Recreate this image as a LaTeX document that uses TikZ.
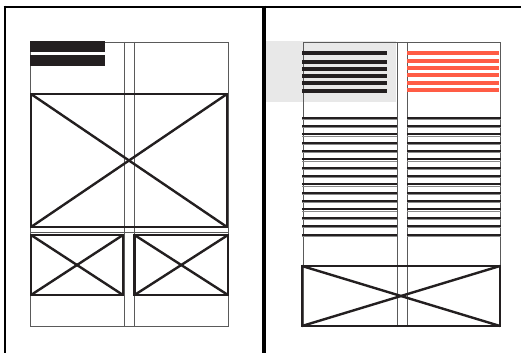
\documentclass[tikz,border=0pt]{standalone}
\definecolor{ink}{HTML}{231F20}
\definecolor{gridgray}{HTML}{5A5A5A}
\definecolor{lightgray}{HTML}{E8E8E8}
\definecolor{accent}{HTML}{FF5C45}
\tikzset{
  frame/.style={line width=2.6pt, draw=black},
  gridline/.style={line width=0.9pt, draw=gridgray},
  xbox/.style={line width=2.4pt, draw=ink},
  bar/.style={fill=ink},
  redbar/.style={fill=accent},
  textline/.style={line width=2pt, draw=ink},
  textshadow/.style={line width=1pt, draw=gridgray!70}
}
\begin{document}
\begin{tikzpicture}[x=1pt,y=-1pt]
\useasboundingbox (0,0) rectangle (521,353);
\fill[white] (0,0) rectangle (521,353);
% page frames
\draw[frame] (3.5,7) -- (521,7);
\draw[frame] (5,5.7) -- (5,353);
\draw[frame, line width=4pt] (264,5.7) -- (264,353);

% ---------- left page ----------
\draw[gridline] (30.5,42) rectangle (228,326);
\draw[gridline] (124,42) -- (124,326);
\draw[gridline] (134,42) -- (134,326);
\draw[gridline] (30.5,232.5) -- (228,232.5);
\fill[bar] (30,41) rectangle (105,52);
\fill[bar] (30,55) rectangle (105,66);
% big image box
\draw[xbox] (31,94) rectangle (227,227);
\draw[xbox] (31,94) -- (227,227);
\draw[xbox] (227,94) -- (31,227);
% small image boxes
\draw[xbox] (31,235) rectangle (123,295);
\draw[xbox] (31,235) -- (123,295);
\draw[xbox] (123,235) -- (31,295);
\draw[xbox] (134.5,235) rectangle (228,295);
\draw[xbox] (134.5,235) -- (228,295);
\draw[xbox] (228,235) -- (134.5,295);

% ---------- right page ----------
\fill[lightgray] (266,41) rectangle (396,102);
\draw[gridline] (303,42) rectangle (500.5,326);
\draw[gridline] (397,42) -- (397,326);
\draw[gridline] (407,42) -- (407,326);
% headline bars
\foreach \y in {53.3,61.7,68.7,75.7,83.3,90.7}{
  \fill[bar] (302,\y-2) rectangle (387,\y+2);
  \fill[redbar] (407,\y-2.3) rectangle (499,\y+1.7);
}
% text lines
\foreach \i in {0,...,14}{
  \pgfmathsetmacro{\yy}{117.5+8.36*\i}
  \draw[textshadow] (302,\yy+1.8) -- (397,\yy+1.8);
  \draw[textline] (302,\yy) -- (397,\yy);
  \draw[textshadow] (407,\yy+1.8) -- (500.5,\yy+1.8);
  \draw[textline] (407,\yy) -- (500.5,\yy);
}
% bottom image box
\draw[xbox] (302,266) rectangle (500,326);
\draw[xbox] (302,266) -- (500,326);
\draw[xbox] (500,266) -- (302,326);
\end{tikzpicture}
\end{document}
